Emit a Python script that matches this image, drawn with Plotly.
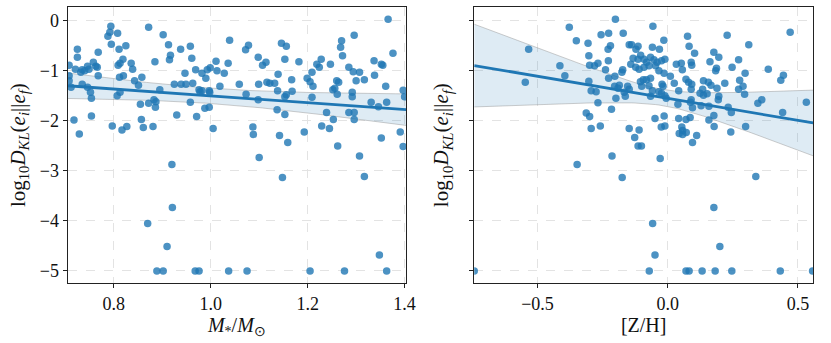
import numpy as np
import plotly.graph_objects as go

# ---------------- data ----------------
mass = [
    1.366, 0.794, 0.792, 0.788, 0.795, 0.808, 0.872, 0.902, 1.039, 1.296,
    0.725, 0.725, 0.768, 0.811, 0.825, 0.913, 0.917, 0.915, 0.938, 0.958,
    0.961, 0.885, 1.011, 1.036, 1.078, 1.072, 1.098, 1.107, 1.114, 1.146,
    1.156, 1.153, 1.182, 1.270, 1.268, 1.272, 1.228, 1.247, 1.219, 1.224,
    1.209, 1.337, 1.352, 1.355, 1.376, 1.285, 1.294, 1.307, 0.708, 0.721,
    0.735, 0.732, 0.746, 0.749, 0.758, 0.763, 0.766, 0.740, 0.813, 0.819,
    0.809, 0.836, 0.839, 0.812, 0.820, 0.768, 0.708, 0.843, 0.858, 0.851,
    0.969, 0.982, 0.990, 0.993, 0.999, 1.013, 1.028, 0.947, 0.925, 0.939,
    0.949, 0.963, 1.059, 1.019, 1.099, 1.116, 1.122, 1.132, 1.139, 1.167,
    1.138, 1.168, 1.156, 1.153, 1.199, 1.205, 1.211, 1.260, 1.264, 1.252,
    1.256, 1.261, 1.292, 1.292, 1.300, 1.317, 1.338, 1.361, 1.397, 1.400,
    0.708, 0.712, 0.735, 0.746, 0.752, 0.754, 0.807, 0.813, 0.895, 0.883,
    0.887, 0.872, 0.855, 0.886, 0.976, 0.982, 0.997, 0.998, 0.978, 1.073,
    1.098, 0.958, 0.988, 0.997, 1.137, 1.153, 1.209, 1.239, 1.253, 1.285,
    1.296, 1.296, 1.331, 1.346, 1.363, 0.930, 0.971, 0.857, 0.718, 0.754,
    0.729, 0.797, 0.817, 0.827, 0.861, 0.881, 1.005, 1.087, 1.088, 1.142,
    1.159, 1.193, 1.229, 1.245, 1.262, 1.352, 1.391, 1.397,
    1.100, 0.920, 1.307, 1.148, 1.317, 0.921, 0.870, 0.910, 1.348,
    0.889, 0.902, 0.968, 0.976, 1.037, 1.075, 1.205, 1.276, 1.363,
]
logD_mass = [
    0.03, -0.11, -0.23, -0.31, -0.47, -0.25, -0.13, -0.28, -0.39, -0.29,
    -0.57, -0.73, -0.63, -0.57, -0.50, -0.48, -0.69, -0.78, -0.57, -0.51,
    -0.75, -0.82, -0.81, -0.85, -0.49, -0.58, -0.73, -0.89, -0.83, -0.45,
    -0.51, -0.77, -0.82, -0.40, -0.53, -0.70, -0.77, -0.87, -0.87, -0.93,
    -1.03, -0.80, -0.87, -0.89, -0.65, -0.93, -1.02, -1.03, -0.89, -0.97,
    -0.98, -1.03, -0.91, -0.97, -0.83, -0.91, -0.93, -1.00, -0.85, -0.77,
    -0.89, -0.85, -0.97, -1.13, -1.10, -1.10, -1.10, -1.20, -1.13, -1.29,
    -0.98, -1.05, -1.15, -0.98, -0.94, -1.00, -1.05, -1.05, -1.27, -1.27,
    -1.27, -1.25, -1.27, -1.31, -1.27, -1.23, -1.25, -1.25, -1.07, -1.18,
    -1.40, -1.41, -1.48, -1.52, -1.15, -1.22, -1.31, -1.20, -1.23, -1.38,
    -1.35, -1.47, -1.43, -1.52, -1.20, -1.18, -1.09, -1.31, -1.39, -1.52,
    -1.20, -1.33, -1.27, -1.33, -1.43, -1.55, -1.50, -1.43, -1.38, -1.58,
    -1.62, -1.65, -1.67, -1.73, -1.38, -1.40, -1.40, -1.43, -1.42, -1.47,
    -1.58, -1.63, -1.75, -1.73, -1.78, -1.87, -1.53, -1.83, -1.97, -1.83,
    -1.83, -1.97, -1.63, -1.72, -1.63, -1.88, -1.91, -1.97, -1.98, -1.90,
    -2.26, -2.10, -2.18, -2.11, -2.13, -2.11, -2.15, -2.12, -2.27, -2.29,
    -2.43, -2.22, -2.10, -2.15, -2.50, -2.34, -2.22, -2.51,
    -2.73, -2.87, -2.70, -3.13, -3.11, -3.73, -4.05, -4.51, -4.68,
    -5.0, -5.0, -5.0, -5.0, -5.0, -5.0, -5.0, -5.0, -5.0,
]

zh = [
    -0.201, -0.378, -0.057, 0.470, -0.256, -0.227, -0.171, 0.228, 0.076, -0.351,
    -0.306, -0.220, -0.229, -0.148, -0.139, -0.114, -0.122, -0.059, -0.032, -0.015,
    0.082, 0.103, 0.177, 0.196, 0.311, -0.534, -0.547, -0.303, -0.228, -0.300,
    -0.281, -0.268, -0.414, -0.133, -0.104, -0.114, -0.091, -0.066, -0.053, -0.041,
    -0.024, -0.011, -0.081, -0.072, -0.142, -0.123, -0.110, -0.091, -0.047, 0.033,
    0.052, 0.090, 0.092, 0.162, 0.187, 0.184, 0.247, 0.272, 0.386, 0.444,
    0.434, 0.297, -0.239, -0.034, -0.014, 0.010, 0.056, -0.173, -0.176, -0.203,
    -0.227, -0.395, -0.303, -0.294, -0.275, -0.204, -0.186, -0.191, -0.154, -0.148,
    -0.167, -0.163, -0.199, -0.216, -0.268, -0.313, -0.300, -0.294, -0.259, -0.105,
    -0.094, -0.082, -0.100, -0.072, -0.066, -0.022, -0.018, 0.025, 0.042, 0.070,
    0.080, 0.092, 0.090, 0.137, 0.156, 0.166, 0.134, 0.189, 0.219, 0.276,
    0.272, 0.289, 0.295, 0.124, 0.137, 0.151, 0.128, 0.158, 0.196, 0.194,
    0.232, 0.244, 0.346, 0.361, 0.441, 0.532, 0.177, 0.158, 0.178, -0.066,
    -0.024, -0.011, -0.006, -0.059, -0.034, 0.039, 0.090, 0.095, 0.087, -0.014,
    -0.049, 0.042, 0.070, 0.086, -0.025, -0.011, 0.054, 0.057, 0.071, 0.044,
    0.057, 0.111, 0.095, 0.242, 0.299, -0.148, -0.110, -0.127, -0.114, -0.101,
    -0.214, -0.348, -0.029, -0.175, 0.338, 0.177, -0.058, 0.200, -0.049,
    -0.743, -0.071, 0.070, 0.082, 0.132, 0.182, 0.246, 0.432, 0.556,
]
logD_zh = [
    0.03, -0.13, -0.11, -0.23, -0.28, -0.25, -0.25, -0.29, -0.31, -0.40,
    -0.45, -0.50, -0.57, -0.48, -0.48, -0.51, -0.57, -0.53, -0.57, -0.39,
    -0.51, -0.65, -0.63, -0.73, -0.48, -0.57, -1.23, -0.70, -0.80, -0.89,
    -0.90, -0.85, -0.90, -0.75, -0.69, -0.77, -0.77, -0.73, -0.78, -0.83,
    -0.80, -0.77, -0.83, -0.90, -0.87, -0.93, -0.97, -0.93, -0.90, -0.87,
    -0.85, -0.83, -0.89, -0.82, -0.95, -1.00, -0.93, -0.78, -0.97, -1.09,
    -1.19, -1.05, -0.98, -1.00, -1.05, -1.11, -0.98, -0.98, -1.03, -1.11,
    -1.15, -1.10, -1.21, -1.40, -1.42, -1.31, -1.29, -1.35, -1.31, -1.37,
    -1.43, -1.51, -1.55, -1.77, -1.64, -1.84, -1.91, -2.15, -2.10, -1.22,
    -1.18, -1.18, -1.31, -1.30, -1.15, -1.27, -1.31, -1.25, -1.40, -1.17,
    -1.23, -1.27, -1.37, -1.20, -1.23, -1.29, -1.37, -1.35, -1.25, -1.19,
    -1.37, -1.31, -1.47, -1.45, -1.49, -1.46, -1.70, -1.71, -1.51, -1.58,
    -1.73, -1.83, -1.65, -1.58, -1.83, -1.63, -1.89, -1.98, -2.11, -1.51,
    -1.45, -1.50, -1.55, -1.40, -1.42, -1.67, -1.58, -1.74, -1.63, -1.90,
    -1.95, -1.95, -1.97, -1.93, -2.12, -2.10, -2.12, -2.19, -2.23, -2.25,
    -2.27, -2.29, -2.43, -2.22, -2.11, -2.15, -2.18, -2.33, -2.50, -2.50,
    -2.70, -2.87, -2.75, -3.13, -3.11, -3.73, -4.05, -4.51, -4.68,
    -5.0, -5.0, -5.0, -5.0, -5.0, -5.0, -5.0, -5.0, -5.0,
]

mass_ticks = [0.8, 1.0, 1.2, 1.4]
zh_ticks = [-0.5, 0.0, 0.5]
y_ticks = [0, -1, -2, -3, -4, -5]

BLUE = "#1f77b4"
FONT = "Liberation Serif"


def reg_with_ci(x, y, xmin, xmax, n=100):
    """OLS fit with a 95% band from a heteroscedasticity-robust (HC3) covariance,
    which mimics the pairs-bootstrap band that seaborn draws."""
    x = np.asarray(x, float)
    y = np.asarray(y, float)
    X = np.column_stack([np.ones_like(x), x])
    XtX_inv = np.linalg.inv(X.T @ X)
    beta = XtX_inv @ X.T @ y
    resid = y - X @ beta
    h = np.einsum("ij,jk,ik->i", X, XtX_inv, X)
    w = (resid / (1 - h)) ** 2
    meat = (X * w[:, None]).T @ X
    V = XtX_inv @ meat @ XtX_inv
    grid = np.linspace(xmin, xmax, n)
    G = np.column_stack([np.ones_like(grid), grid])
    fit = G @ beta
    se = np.sqrt(np.einsum("ij,jk,ik->i", G, V, G))
    t = 1.97
    return grid, fit, fit - t * se, fit + t * se


fig = go.Figure()

panels = [
    (mass, logD_mass, "x", "y", (0.705, 1.403)),
    (zh, logD_zh, "x2", "y2", (-0.743, 0.558)),
]
for xs, ys, xa, ya, (lo, hi) in panels:
    g, f, lower, upper = reg_with_ci(xs, ys, lo, hi)
    fig.add_trace(go.Scatter(x=g, y=lower, mode="lines", xaxis=xa, yaxis=ya,
                             line=dict(color="rgba(150,150,150,0.6)", width=0.8),
                             showlegend=False, hoverinfo="skip"))
    fig.add_trace(go.Scatter(x=g, y=upper, mode="lines", xaxis=xa, yaxis=ya,
                             fill="tonexty", fillcolor="rgba(31,119,180,0.15)",
                             line=dict(color="rgba(150,150,150,0.6)", width=0.8),
                             showlegend=False, hoverinfo="skip"))
    fig.add_trace(go.Scatter(x=xs, y=ys, mode="markers", xaxis=xa, yaxis=ya,
                             marker=dict(color=BLUE, size=7.5, opacity=0.8,
                                         line=dict(width=0)),
                             showlegend=False))
    fig.add_trace(go.Scatter(x=g, y=f, mode="lines", xaxis=xa, yaxis=ya,
                             line=dict(color=BLUE, width=2.8),
                             showlegend=False, hoverinfo="skip"))

W, H = 831, 343
x1 = [68.5 / W, 411 / W]
x2 = [480 / W, 823 / W]
yd = [1 - 283 / H, 1 - 7.3 / H]

axis_common = dict(
    showline=True, linecolor="#222", linewidth=1.2, mirror=True,
    ticks="outside", ticklen=4, tickcolor="#222", tickwidth=1,
    showgrid=True, gridcolor="#e3e3e3", griddash="dash", gridwidth=0.8,
    zeroline=False, tickfont=dict(family=FONT, size=18, color="#111"),
)
ylabel = ("log<sub>10</sub><i>D</i><sub><i>KL</i></sub>(<i>e<sub>i</sub></i>"
          "||<i>e<sub>f</sub></i>)")

fig.update_layout(
    width=W, height=H, margin=dict(l=0, r=0, t=0, b=0),
    plot_bgcolor="white", paper_bgcolor="white",
    font=dict(family=FONT, size=18, color="#111"),
    xaxis=dict(domain=x1, range=[0.705, 1.403], tickvals=mass_ticks,
               ticktext=["0.8", "1.0", "1.2", "1.4"], anchor="y",
               title=dict(text="<i>M</i><sub>*</sub>/<i>M</i><sub>⊙</sub>",
                          font=dict(family=FONT, size=20), standoff=4),
               **axis_common),
    yaxis=dict(domain=yd, range=[-5.24, 0.27], tickvals=y_ticks,
               ticktext=["0", "−1", "−2", "−3", "−4", "−5"], anchor="x",
               title=dict(text=ylabel, font=dict(family=FONT, size=21), standoff=8),
               **axis_common),
    xaxis2=dict(domain=x2, range=[-0.743, 0.558], tickvals=zh_ticks,
                ticktext=["−0.5", "0.0", "0.5"], anchor="y2",
                title=dict(text="[Z/H]", font=dict(family=FONT, size=20), standoff=4),
                **axis_common),
    yaxis2=dict(domain=yd, range=[-5.24, 0.27], tickvals=y_ticks,
                showticklabels=False, anchor="x2",
                title=dict(text=ylabel, font=dict(family=FONT, size=21), standoff=14),
                **axis_common),
)

fig.write_html("out.html", config={"displayModeBar": False},
               post_script="document.body.style.margin='0px';"
                           "document.body.style.overflow='hidden';")
